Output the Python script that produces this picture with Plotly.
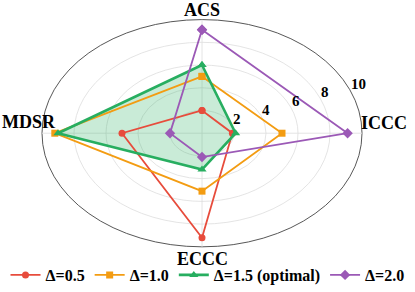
import numpy as np
import plotly.graph_objects as go

categories = ["ACS", "MDSR", "ECCC", "ICCC"]
series_names = ["Δ=0.5", "Δ=1.0", "Δ=1.5 (optimal)", "Δ=2.0"]
vals_05 = [2.0, 5.0, 9.2, 1.9]
vals_10 = [5.0, 9.2, 5.1, 5.0]
vals_15 = [6.0, 9.0, 3.2, 2.1]
vals_20 = [9.1, 2.0, 2.1, 9.1]
radial_ticks = [2, 4, 6, 8, 10]
r_max = 10

colors = ["#e74c3c", "#f39c12", "#27ae60", "#9b59b6"]
symbols = ["circle", "square", "triangle-up", "diamond"]
widths = [1.8, 1.8, 2.6, 1.8]
msizes = [7, 7, 8, 8]

angles = np.deg2rad([90 + 90 * i for i in range(len(categories))])

def to_xy(vals):
    v = np.array(list(vals) + [vals[0]], dtype=float)
    a = np.array(list(angles) + [angles[0]])
    return v * np.cos(a), v * np.sin(a)

FONT = "Liberation Serif, Times New Roman, serif"
fig = go.Figure()

# grid rings and spokes
shapes = []
for t in radial_ticks:
    outer = t == r_max
    shapes.append(dict(type="circle", xref="x", yref="y", x0=-t, x1=t, y0=-t, y1=t,
                       line=dict(color="#444444" if outer else "#dddddd", width=0.9 if outer else 0.8),
                       layer="below"))
for a in angles:
    shapes.append(dict(type="line", xref="x", yref="y", x0=0, y0=0,
                       x1=r_max * np.cos(a), y1=r_max * np.sin(a),
                       line=dict(color="#dddddd", width=0.8), layer="below"))

all_vals = [vals_05, vals_10, vals_15, vals_20]

# fill for the optimal setting (drawn underneath the lines)
fx, fy = to_xy(vals_15)
fig.add_trace(go.Scatter(x=fx, y=fy, mode="none", fill="toself",
                         fillcolor="rgba(39,174,96,0.25)", showlegend=False, hoverinfo="skip"))

for i, (name, vals) in enumerate(zip(series_names, all_vals)):
    x, y = to_xy(vals)
    fig.add_trace(go.Scatter(
        x=x, y=y, mode="lines+markers", name=name,
        line=dict(color=colors[i], width=widths[i]),
        marker=dict(symbol=symbols[i], size=msizes[i], color=colors[i])))

ann = []
# tick labels
lab_ang = np.deg2rad(22.5)
for t in radial_ticks:
    ann.append(dict(x=t * np.cos(lab_ang), y=t * np.sin(lab_ang), xref="x", yref="y",
                    text=str(t), showarrow=False, xanchor="left", yanchor="bottom",
                    xshift=-1, yshift=-4,
                    font=dict(family=FONT, size=15, color="black", weight="bold")))
# category labels (pixel offsets from the outer ring)
cat_shift = [(0, 10), (-13, 11), (0, -12), (22, 10)]
for c, a, (dx, dy) in zip(categories, angles, cat_shift):
    ann.append(dict(x=r_max * np.cos(a), y=r_max * np.sin(a), xref="x", yref="y",
                    text=c, showarrow=False, xanchor="center", yanchor="middle",
                    xshift=dx, yshift=dy,
                    font=dict(family=FONT, size=18, color="black", weight="bold")))

W, H = 415, 292
cx, cy = 202, 136
sx, sy = 16.0, 11.6
fig.update_layout(
    width=W, height=H,
    margin=dict(l=0, r=0, t=0, b=0),
    paper_bgcolor="white", plot_bgcolor="white",
    xaxis=dict(visible=False, range=[-cx / sx, (W - cx) / sx], fixedrange=True),
    yaxis=dict(visible=False, range=[-(H - cy) / sy, cy / sy], fixedrange=True),
    shapes=shapes, annotations=ann,
    showlegend=True,
    legend=dict(orientation="h", x=0.5, xanchor="center", y=1 - 281 / H, yanchor="middle",
                font=dict(family=FONT, size=16, color="black", weight="bold"),
                itemwidth=30, tracegroupgap=0, bgcolor="rgba(0,0,0,0)"),
)
fig.write_html("out.html", config={"displayModeBar": False},
               post_script="document.body.style.margin='0px';")
